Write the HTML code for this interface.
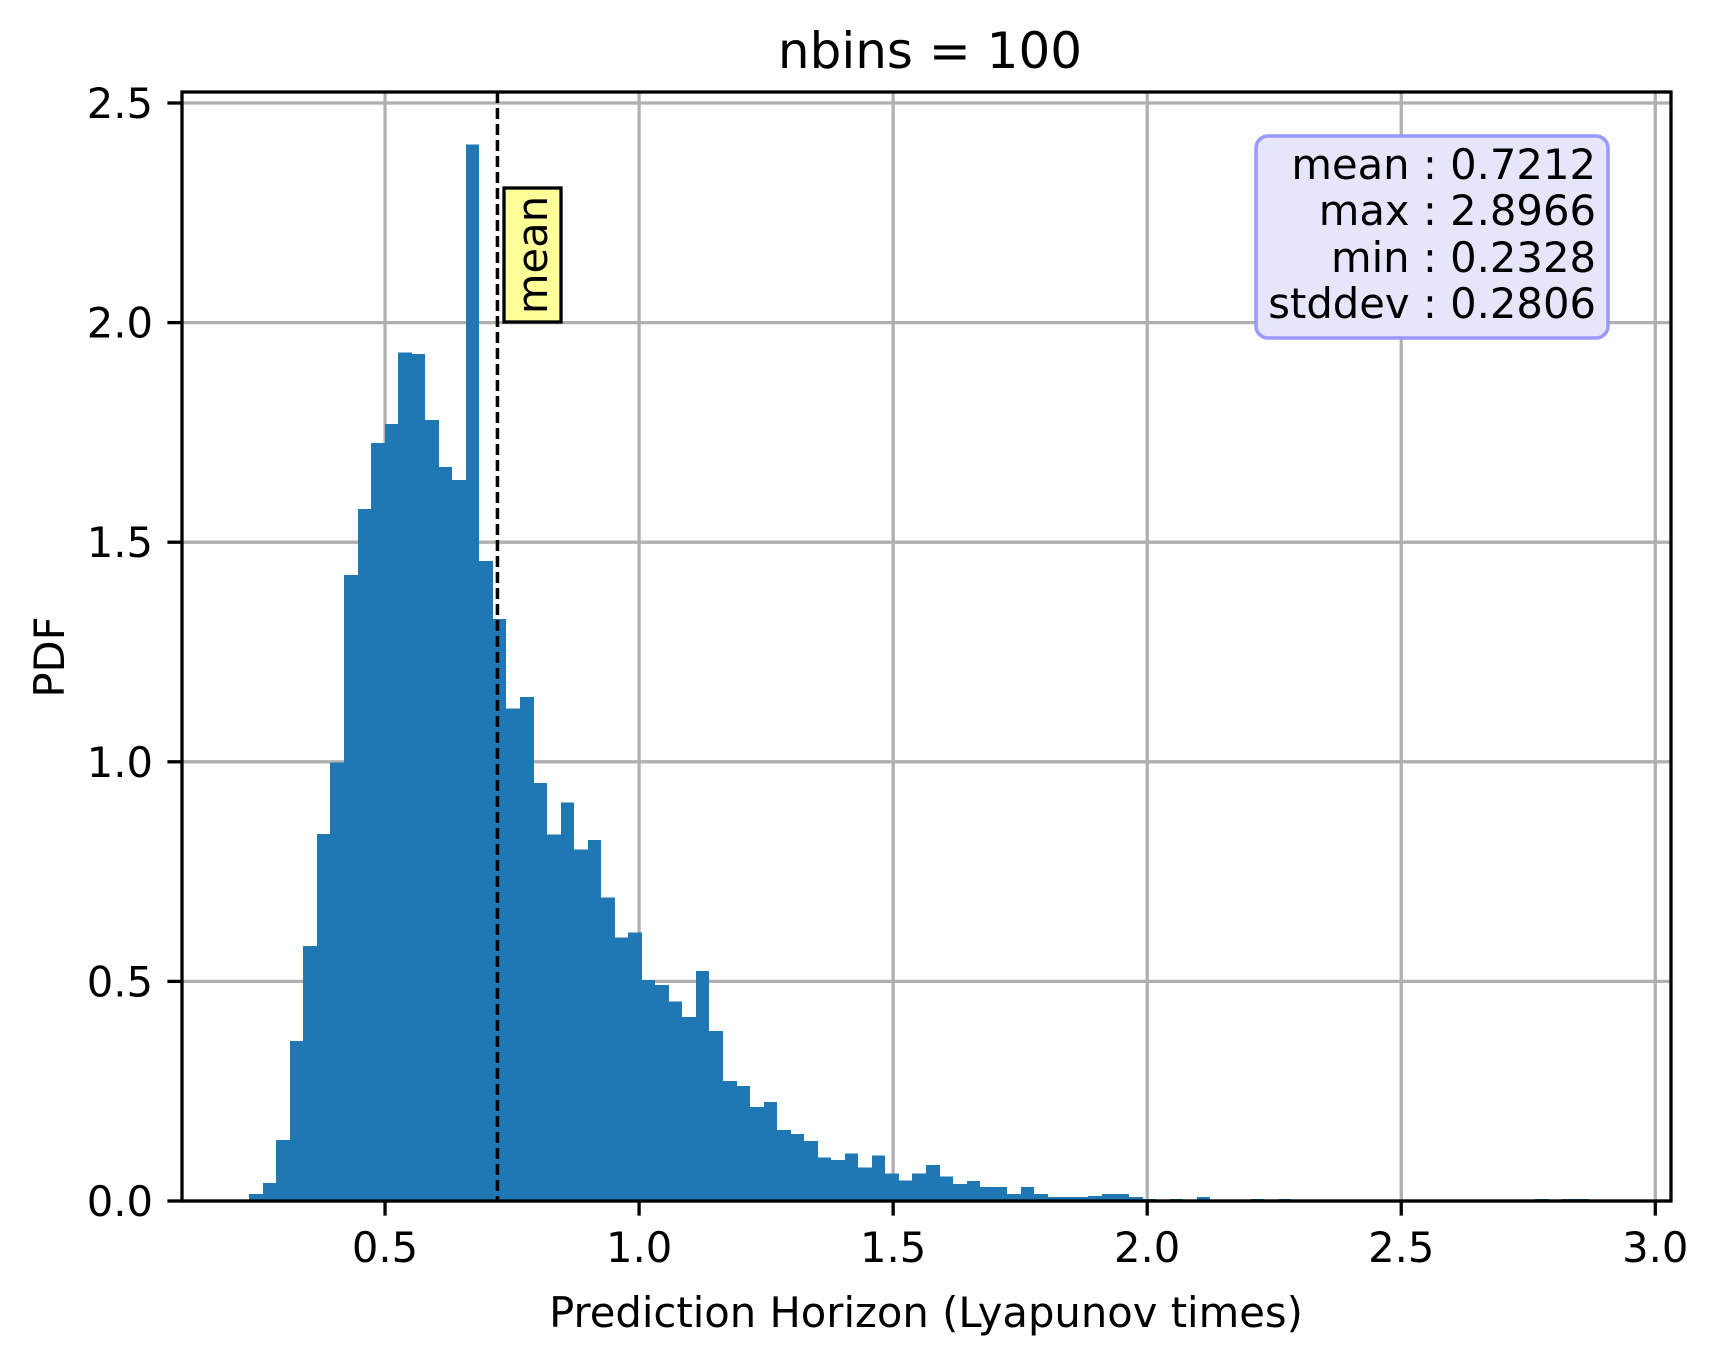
<!DOCTYPE html>
<html><head><meta charset="utf-8"><style>
html,body{margin:0;padding:0;background:#fff;}
svg{display:block;font-family:"DejaVu Sans","Liberation Sans",sans-serif;}
</style></head><body>
<svg id="chart" width="1718" height="1357" viewBox="0 0 1718 1357" xmlns="http://www.w3.org/2000/svg">
<rect x="0" y="0" width="1718" height="1357" fill="#fff"/>
<g id="grid"></g>
<g id="bars" shape-rendering="crispEdges"></g>
<g id="axes"></g>
<text x="930" y="68" font-size="50" text-anchor="middle">nbins = 100</text>
<text x="926" y="1327" font-size="41.7" text-anchor="middle">Prediction Horizon (Lyapunov times)</text>
<text x="0" y="0" font-size="41.7" text-anchor="middle" transform="translate(64,657) rotate(-90)">PDF</text>
<g>
<rect x="1256" y="136" width="352" height="202" rx="12" fill="#e6e6fa" stroke="#9999ff" stroke-width="3.5"/>
<text x="1596" y="179" font-size="41.7" text-anchor="end">mean : 0.7212</text>
<text x="1596" y="225" font-size="41.7" text-anchor="end">max : 2.8966</text>
<text x="1596" y="272" font-size="41.7" text-anchor="end">min : 0.2328</text>
<text x="1596" y="318" font-size="41.7" text-anchor="end">stddev : 0.2806</text>
</g>
</svg>
<script>
const binMin = 0.2328;
const binMax = 2.8966;
const meanValue = 0.7212;
const densities = [
0.016,0.041,0.139,0.364,0.581,0.836,0.998,1.425,1.576,1.726,
1.769,1.932,1.929,1.778,1.671,1.642,2.405,1.457,1.325,1.121,
1.148,0.952,0.835,0.907,0.800,0.822,0.691,0.600,0.611,0.503,
0.492,0.454,0.419,0.524,0.387,0.273,0.262,0.214,0.225,0.162,
0.152,0.137,0.099,0.093,0.108,0.076,0.104,0.063,0.047,0.063,
0.082,0.056,0.039,0.046,0.032,0.032,0.016,0.032,0.016,0.009,
0.009,0.009,0.011,0.016,0.016,0.009,0.0046,0,0.0046,0,
0.009,0,0,0,0.0046,0,0.0046,0,0,0,
0,0,0,0,0,0,0,0,0,0,
0,0,0,0,0,0.0046,0,0.0046,0.0046,0
];
const xTicks = [0.5,1.0,1.5,2.0,2.5,3.0];
const xTickLabels = ["0.5","1.0","1.5","2.0","2.5","3.0"];
const yTicks = [0,0.5,1.0,1.5,2.0,2.5];
const yTickLabels = ["0.0","0.5","1.0","1.5","2.0","2.5"];

const L=182, R=1671, T=92, B=1201;
function xs(v){ return 131 + v*508.1; }
function ys(v){ return 1201 - v*439.2; }
const NS="http://www.w3.org/2000/svg";
function mk(tag, attrs, parent){ const e=document.createElementNS(NS,tag); for(const k in attrs) e.setAttribute(k,attrs[k]); parent.appendChild(e); return e; }

const grid=document.getElementById('grid');
xTicks.forEach((t)=>{
  const g=mk('line',{x1:xs(t),x2:xs(t),y1:T,y2:B,stroke:'#b0b0b0','stroke-width':3.3},grid);
  
  
});
yTicks.forEach((t)=>{
  const g=mk('line',{x1:L,x2:R,y1:ys(t),y2:ys(t),stroke:'#b0b0b0','stroke-width':3.3},grid);
  
  
});

const bars=document.getElementById('bars');
const n=densities.length, w=(binMax-binMin)/n;
densities.forEach((d,i)=>{
  if(d<=0) return;
  const x0=Math.round(xs(binMin+i*w)), x1=Math.round(xs(binMin+(i+1)*w));
  const r=mk('rect',{x:x0,y:ys(d),width:x1-x0,height:ys(0)-ys(d),fill:'#1f77b4'},bars);
  
  
});

const axes=document.getElementById('axes');
const ml=mk('line',{x1:xs(meanValue),x2:xs(meanValue),y1:T,y2:B,stroke:'#000','stroke-width':3.5,'stroke-dasharray':'11,5'},axes);


const mb=mk('g',{},axes);


mk('rect',{x:504,y:188,width:57,height:134,fill:'#ffff99',stroke:'#000','stroke-width':3.3},mb);
const mt=mk('text',{x:0,y:0,'font-size':41.7,'text-anchor':'middle',transform:'translate(547,255) rotate(-90)'},mb);
mt.textContent='mean';

const frame=mk('rect',{x:L,y:T,width:R-L,height:B-T,fill:'none',stroke:'#000','stroke-width':3.3},axes);


xTicks.forEach((t,i)=>{
  const tk=mk('line',{x1:xs(t),x2:xs(t),y1:B,y2:B+14.6,stroke:'#000','stroke-width':3.3},axes);
  
  
  const lb=mk('text',{x:xs(t),y:B+61,'font-size':41.7,'text-anchor':'middle'},axes);
  
  
  lb.textContent=xTickLabels[i];
});
yTicks.forEach((t,i)=>{
  const tk=mk('line',{x1:L-14.6,x2:L,y1:ys(t),y2:ys(t),stroke:'#000','stroke-width':3.3},axes);
  
  
  const lb=mk('text',{x:L-29,y:ys(t)+15,'font-size':41.7,'text-anchor':'end'},axes);
  
  
  lb.textContent=yTickLabels[i];
});
</script>
</body></html>
